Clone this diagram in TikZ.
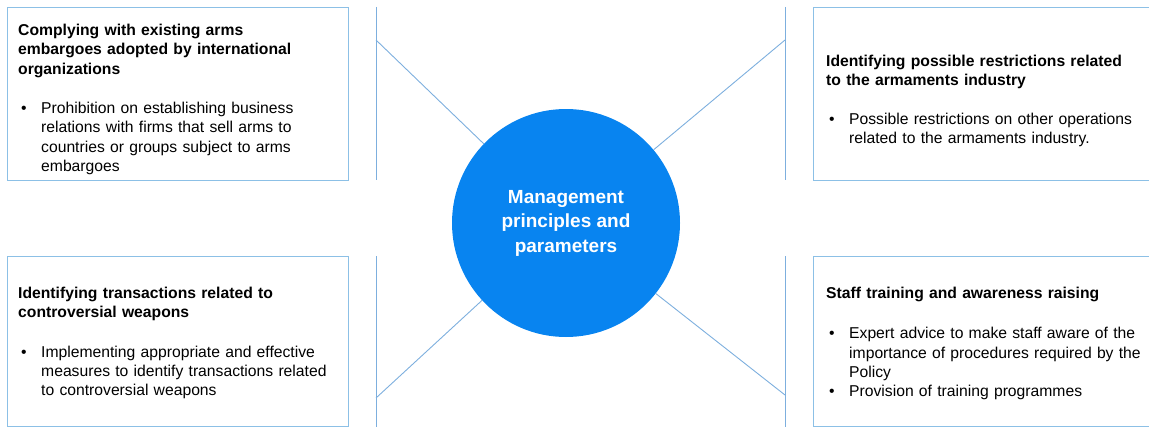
\documentclass[tikz,border=0pt]{standalone}
\usepackage{fontspec}
\setmainfont{Liberation Sans}
\usepackage{tikz}
\usetikzlibrary{positioning}
\definecolor{hubblue}{RGB}{8,132,240}
\definecolor{linkblue}{RGB}{125,175,222}
\definecolor{boxblue}{RGB}{140,192,230}
\newcommand{\bpoint}{\makebox[23pt][l]{\hspace{3pt}\textbullet}}
\newcommand{\bgap}{\hspace*{23pt}}

\begin{document}
\begin{tikzpicture}[x=1pt,y=-1pt,
    topic/.style={draw=boxblue, line width=1pt, anchor=north west, minimum width=341pt, inner sep=0pt},
    note/.style={inner sep=0pt, text width=335pt, align=left, font=\fontsize{15.7}{19.3}\selectfont},
    hub/.style={circle, fill=hubblue, minimum size=228pt, inner sep=0pt, text=white, align=center, font=\bfseries\fontsize{19}{24.5}\selectfont},
    link/.style={draw=linkblue, line width=0.9pt}]
\useasboundingbox (0,0) rectangle (1149,428);
                        \node[hub] (hub) at (566,223) {Management\\principles and\\parameters};
                        \node[topic, minimum height=173pt] (arms) at (7,7) {};
                        \node[topic, minimum height=173pt] (industry) at (813,7) {};
                        \node[topic, minimum height=170pt] (weapons) at (7,256) {};
                        \node[topic, minimum height=170pt] (staff) at (813,256) {};
                        \node[note, below right=17pt and 11pt of arms.north west] (armstext) {\textbf{Complying with existing arms}\\\textbf{embargoes adopted by international}\\\textbf{organizations}\\[20pt]\bpoint Prohibition on establishing business\\\bgap relations with firms that sell arms to\\\bgap countries or groups subject to arms\\\bgap embargoes};
                        \node[note, below right=48pt and 13pt of industry.north west] (industrytext) {\textbf{Identifying possible restrictions related}\\\textbf{to the armaments industry}\\[19pt]\bpoint Possible restrictions on other operations\\\bgap related to the armaments industry.};
                        \node[note, below right=31pt and 11pt of weapons.north west] (weaponstext) {\textbf{Identifying transactions related to}\\\textbf{controversial weapons}\\[20pt]\bpoint Implementing appropriate and effective\\\bgap measures to identify transactions related\\\bgap to controversial weapons};
                        \node[note, below right=31pt and 13pt of staff.north west] (stafftext) {\textbf{Staff training and awareness raising}\\[21pt]\bpoint Expert advice to make staff aware of the\\\bgap importance of procedures required by the\\\bgap Policy\\\bpoint Provision of training programmes};
                        % bracket lines beside the boxes
                        \draw[link] (376,7) -- (376,180);
                        \draw[link] (785,7) -- (785,180);
                        \draw[link] (376,256) -- (376,427);
                        \draw[link] (785,256) -- (785,427);
                        \coordinate (armsj) at (376,40);
                        \coordinate (industryj) at (785,40);
                        \coordinate (weaponsj) at (376,398);
                        \coordinate (staffj) at (785,395);
                        \draw[link] (armsj) -- (hub);
                        \draw[link] (industryj) -- (hub);
                        \draw[link] (weaponsj) -- (hub);
                        \draw[link] (staffj) -- (hub);
                        \end{tikzpicture}
\end{document}
